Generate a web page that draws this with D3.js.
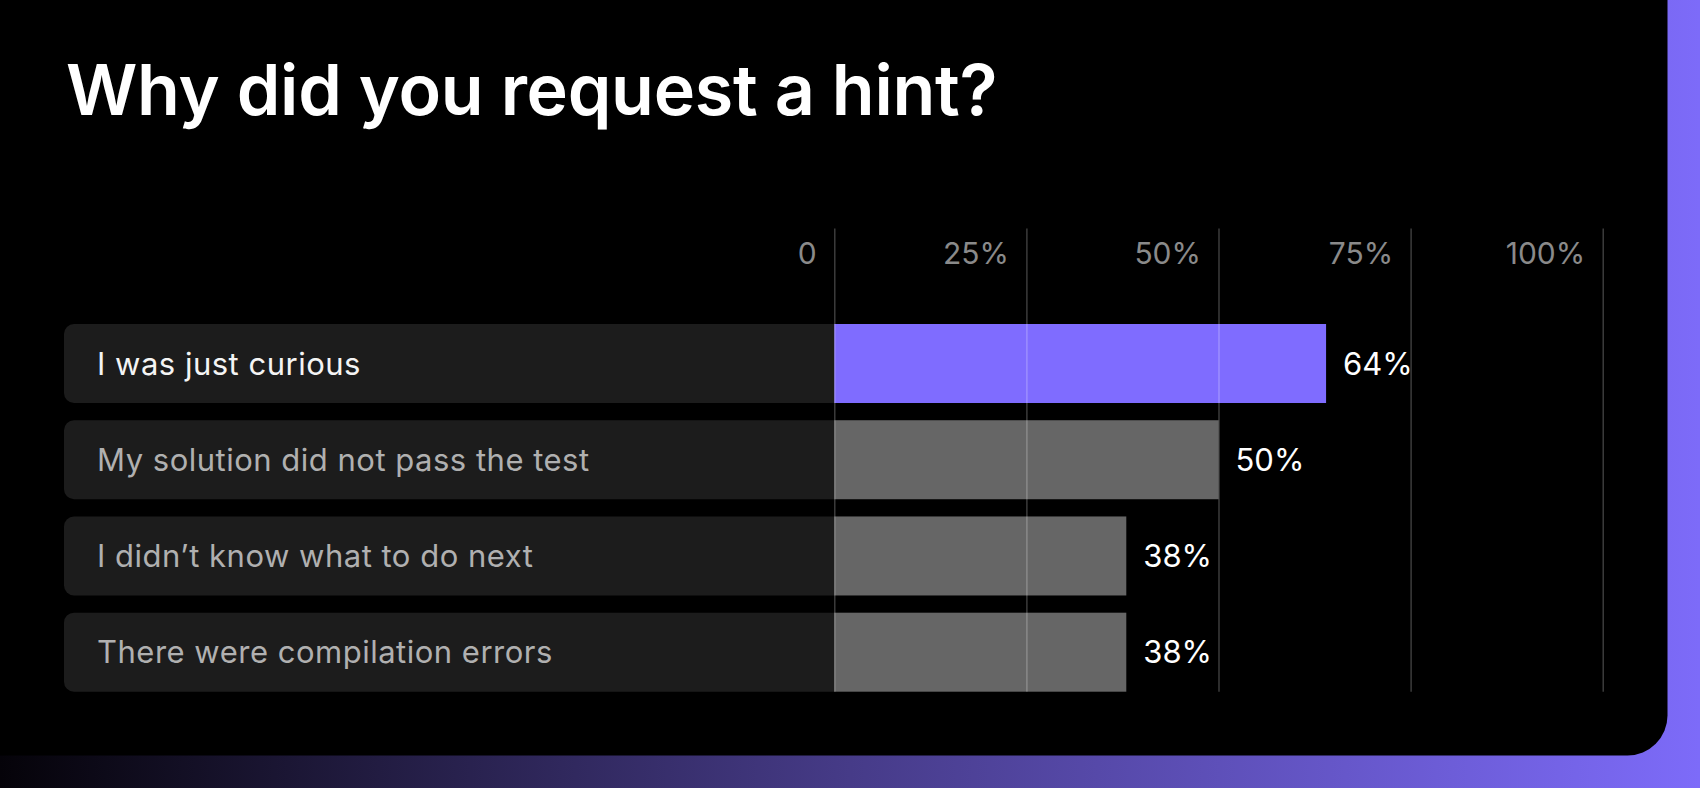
<!DOCTYPE html>
<html>
<head>
<meta charset="utf-8">
<script src="https://cdn.jsdelivr.net/npm/d3@7/dist/d3.min.js"></script>
<style>
  html, body { margin: 0; padding: 0; background: #000; }
  svg { display: block; }
</style>
</head>
<body>
<svg id="chart" width="1700" height="788"></svg>
<script>
const title = "Why did you request a hint?";
const categories = [
  "I was just curious",
  "My solution did not pass the test",
  "I didn\u2019t know what to do next",
  "There were compilation errors"
];
const values = [64, 50, 38, 38];
const highlighted = [true, false, false, false];
const tickValues = [0, 25, 50, 75, 100];
const tickLabels = ["0", "25%", "50%", "75%", "100%"];

const W = 1700, H = 788;
const svg = d3.select("#chart");
const defs = svg.append("defs");

const grad = defs.append("linearGradient").attr("id", "bg").attr("x1", "0").attr("x2", "1").attr("y1", "0").attr("y2", "0");
grad.append("stop").attr("offset", "0").attr("stop-color", "#050309");
grad.append("stop").attr("offset", "0.5").attr("stop-color", "#463b88");
grad.append("stop").attr("offset", "1").attr("stop-color", "#7d6bf9");

svg.append("rect").attr("width", W).attr("height", H).attr("fill", "url(#bg)");

// card with rounded bottom-right corner
const cw = 1667.5, ch = 755.5, r = 40;
svg.append("path")
  .attr("d", `M0,0 H${cw} V${ch - r} A${r},${r} 0 0 1 ${cw - r},${ch} H0 Z`)
  .attr("fill", "#000");

const font = "Inter, 'Noto Sans', sans-serif";

svg.append("text")
  .attr("x", 66).attr("y", 115)
  .attr("fill", "#fff")
  .attr("font-family", font)
  .attr("font-weight", 600)
  .attr("font-size", 70)
  .attr("letter-spacing", "-0.3")
  .text(title);

const x = d3.scaleLinear().domain([0, 100]).range([834.3, 1602.7]);
const y = d3.scaleBand().domain(categories).range([324, 691.7]).paddingInner(0.179).paddingOuter(0);

const panelLeft = 64;
const pr = 10;

// row panels
svg.append("g").selectAll("path").data(categories).join("path")
  .attr("d", d => {
    const t = y(d), b = t + y.bandwidth(), xr = x(0);
    return `M${xr},${t} H${panelLeft + pr} A${pr},${pr} 0 0 0 ${panelLeft},${t + pr} V${b - pr} A${pr},${pr} 0 0 0 ${panelLeft + pr},${b} H${xr} Z`;
  })
  .attr("fill", "#1c1c1c");

// bars
svg.append("g").selectAll("rect").data(categories).join("rect")
  .attr("x", x(0))
  .attr("y", d => y(d))
  .attr("width", (d, i) => x(values[i]) - x(0))
  .attr("height", y.bandwidth())
  .attr("fill", (d, i) => highlighted[i] ? "#7f6cff" : "#666666");

// gridlines on top
const axis = d3.axisTop(x).tickValues(tickValues).tickFormat((d, i) => tickLabels[i]).tickSize(0);
const gAxis = svg.append("g").attr("transform", "translate(0,0)").call(axis);
gAxis.select(".domain").remove();
gAxis.selectAll(".tick line").remove();
gAxis.selectAll(".tick").append("line")
  .attr("x1", 0).attr("x2", 0)
  .attr("y1", 228.5).attr("y2", 691.7)
  .attr("stroke", "rgba(255,255,255,0.27)")
  .attr("stroke-width", 1.3);
gAxis.selectAll(".tick text")
  .attr("x", -18).attr("y", 264.3).attr("dy", null)
  .attr("text-anchor", "end")
  .attr("fill", "#8a8a8a")
  .attr("font-family", font)
  .attr("font-size", 30)
  .attr("font-weight", 400);

// category labels
svg.append("g").selectAll("text").data(categories).join("text")
  .attr("x", 97)
  .attr("y", d => y(d) + y.bandwidth() / 2)
  .attr("dy", "0.36em")
  .attr("fill", (d, i) => highlighted[i] ? "#f4f4f4" : "#b0b0b0")
  .attr("font-family", font)
  .attr("font-size", 31)
  .attr("letter-spacing", "0.5")
  .text(d => d);

// value labels
svg.append("g").selectAll("text").data(categories).join("text")
  .attr("x", (d, i) => x(values[i]) + 17)
  .attr("y", d => y(d) + y.bandwidth() / 2)
  .attr("dy", "0.36em")
  .attr("fill", "#ffffff")
  .attr("font-family", font)
  .attr("font-size", 31)
  .text((d, i) => values[i] + "%");
</script>
</body>
</html>
